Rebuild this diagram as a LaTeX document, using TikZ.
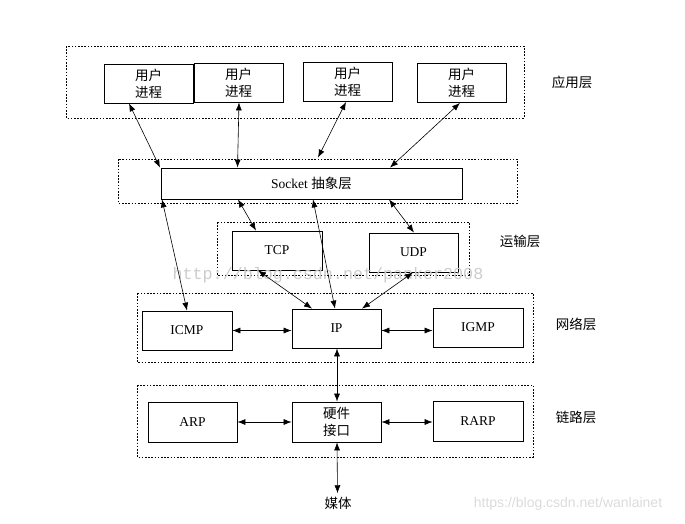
\documentclass[tikz,border=0pt]{standalone}
\usepackage{fontspec}
\setmainfont{Liberation Serif}
\newfontfamily\cjk{Noto Sans CJK SC}
\newfontfamily\wmmono{Liberation Mono}
\newfontfamily\wmsans{Liberation Sans}
\usetikzlibrary{arrows.meta}
\tikzset{
  box/.style={draw, line width=0.8pt, minimum width=89pt, minimum height=39pt, inner sep=0pt, align=center, font=\fontsize{13.5}{17}\selectfont},
  group/.style={draw, line width=0.8pt, dash pattern=on 1.6pt off 1.6pt},
  lyr/.style={font=\cjk\fontsize{13.5}{16}\selectfont},
  link/.style={<->, line width=0.6pt}
}
\begin{document}
\begin{tikzpicture}[x=1pt, y=-1pt, >={Latex[length=8pt,width=6pt]}]
\useasboundingbox (0,0) rectangle (685,523);
% dotted layer frames
\draw[group] (66,46) rectangle (524,118);
\draw[group] (118,159) rectangle (517,203);
\draw[group] (217,222) rectangle (469,275);
\draw[group] (137,293) rectangle (533,362);
\draw[group] (137,385) rectangle (533,457);
% application layer
\node[box] (u1) at (148.5,83.5) {\cjk 用户\\\cjk 进程};
\node[box] (u2) at (238.5,82.5) {\cjk 用户\\\cjk 进程};
\node[box] (u3) at (347.5,82) {\cjk 用户\\\cjk 进程};
\node[box] (u4) at (461.5,83) {\cjk 用户\\\cjk 进程};
% socket
\node[box, minimum width=301pt, minimum height=31pt] (sock) at (311.5,183.5) {Socket {\cjk 抽象层}};
% transport
\node[box, minimum width=90pt] (tcp) at (277,250.5) {TCP};
\node[box] (udp) at (413.5,252.5) {UDP};
% network
\node[box, minimum width=90pt] (icmp) at (187,330.5) {ICMP};
\node[box] (ip) at (336.5,328.5) {IP};
\node[box, minimum width=90pt] (igmp) at (478,327.5) {IGMP};
% link
\node[box, minimum height=40pt] (arp) at (192.5,422) {ARP};
\node[box, minimum height=40pt] (hw) at (336.5,422) {\cjk 硬件\\\cjk 接口};
\node[box, minimum width=90pt, minimum height=40pt] (rarp) at (478,421.5) {RARP};
\node[lyr] (media) at (338,503) {媒体};
% layer names
\node[lyr] (lapp) at (572,82) {应用层};
\node[lyr] (ltrans) at (520,241) {运输层};
\node[lyr] (lnet) at (576,324) {网络层};
\node[lyr] (llink) at (576,417) {链路层};
% watermarks
\node[text=black!20, font=\wmmono\fontsize{16.7}{18}\selectfont] (wm1) at (328,275) {http://blog.csdn.net/panker2008};
\node[text=black!14, font=\wmsans\fontsize{14}{16}\selectfont] (wm2) at (568,504) {https://blog.csdn.net/wanlainet};
% connections
\draw[link] ([xshift=-19.5pt]u1.south) -- ([xshift=-151.5pt]sock.north);
\draw[link] ([xshift=0.5pt]u2.south) -- ([xshift=-74pt]sock.north);
\draw[link] ([xshift=-1.5pt]u3.south) -- ([xshift=6.5pt,yshift=10pt]sock.north);
\draw[link] ([xshift=-1.5pt]u4.south) -- ([xshift=78.5pt]sock.north);
\draw[link] ([xshift=-73.5pt]sock.south) -- ([xshift=-21pt]tcp.north);
\draw[link] ([xshift=77.5pt]sock.south) -- ([xshift=0.5pt]udp.north);
\draw[link] ([xshift=-149.5pt]sock.south) -- (icmp.north);
\draw[link] ([xshift=1.5pt]sock.south) -- ([xshift=-1.5pt]ip.north);
\draw[link] ([xshift=-19pt]tcp.south) -- ([xshift=-24.5pt]ip.north);
\draw[link] ([xshift=-0.5pt]udp.south) -- ([xshift=25.5pt]ip.north);
\draw[link] (icmp.east) -- (icmp.east -| ip.west);
\draw[link] (ip.east |- icmp.east) -- (igmp.west |- icmp.east);
\draw[link] ([xshift=0.5pt]ip.south) -- ([xshift=0.5pt]hw.north);
\draw[link] (arp.east) -- (hw.west);
\draw[link] (hw.east) -- (hw.east -| rarp.west);
\draw[link] ([xshift=0.5pt]hw.south) -- ([xshift=-0.5pt]media.north);
\end{tikzpicture}
\end{document}
